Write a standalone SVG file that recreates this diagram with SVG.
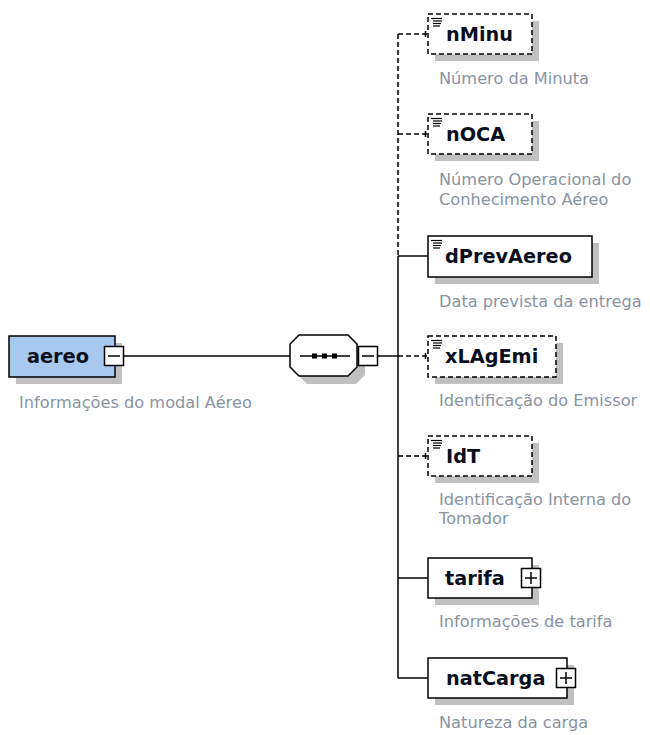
<svg xmlns="http://www.w3.org/2000/svg" width="650" height="735" viewBox="0 0 650 735">
<style>
.bg{fill:#ffffff}
.box{fill:#ffffff;stroke:#000000;stroke-width:1.5}
.opt{stroke-dasharray:5 3}
.root{fill:#a7c9ef}
.shadow{fill:#c0c0c0;stroke:none}
.ln{stroke:#000000;stroke-width:1.5;fill:none}
.dash{stroke-dasharray:5 3}
.name{font-family:"DejaVu Sans","Liberation Sans",sans-serif;font-weight:bold;font-size:19.3px;fill:#0a0f1e}
.desc{font-family:"DejaVu Sans","Liberation Sans",sans-serif;font-size:16.2px;fill:#8a93a0}
.ico{stroke:#000000;stroke-width:1.2}
.pm{fill:#ffffff;stroke:#000000;stroke-width:1.5}
</style>
<defs>
<g id="icon">
<line class="ico" x1="3" y1="4.5" x2="14" y2="4.5"/>
<line class="ico" x1="5" y1="7" x2="14" y2="7"/>
<line class="ico" x1="5" y1="9.5" x2="13" y2="9.5"/>
<line class="ico" x1="5" y1="12" x2="12" y2="12"/>
</g>
</defs>
<rect class="bg" x="0" y="0" width="650" height="735"/>

<g id="connectors">
<line class="ln" x1="124" y1="356" x2="290" y2="356"/>
<line class="ln" x1="378" y1="356" x2="398" y2="356"/>
<line class="ln dash" x1="398" y1="34" x2="398" y2="256"/>
<line class="ln" x1="398" y1="256" x2="398" y2="678"/>
<line class="ln dash" x1="398" y1="34" x2="428" y2="34"/>
<line class="ln" x1="425.5" y1="31" x2="425.5" y2="37"/>
<line class="ln dash" x1="398" y1="134" x2="428" y2="134"/>
<line class="ln" x1="425.5" y1="131" x2="425.5" y2="137"/>
<line class="ln" x1="398" y1="256" x2="428" y2="256"/>
<line class="ln dash" x1="398" y1="356" x2="428" y2="356"/>
<line class="ln" x1="425.5" y1="353" x2="425.5" y2="359"/>
<line class="ln dash" x1="398" y1="456" x2="428" y2="456"/>
<line class="ln" x1="425.5" y1="453" x2="425.5" y2="459"/>
<line class="ln" x1="398" y1="578" x2="428" y2="578"/>
<line class="ln" x1="398" y1="678" x2="428" y2="678"/>
</g>

<g id="aereo">
<rect class="shadow" x="16" y="343" width="106" height="41"/>
<rect class="box root" x="9" y="336" width="106" height="41"/>
<text class="name" x="27" y="363">aereo</text>
<rect class="pm" x="104.5" y="346.5" width="19" height="19"/>
<line class="ln" x1="108" y1="356" x2="120" y2="356"/>
<text class="desc" x="19" y="408">Informações do modal Aéreo</text>
</g>

<g id="sequence">
<polygon class="shadow" points="307,343 356,343 365,352 365,375 356,384 307,384 298,375 298,352"/>
<polygon class="box" points="299,335 348,335 357,344 357,367 348,376 299,376 290,367 290,344"/>
<line class="ln" x1="300" y1="356" x2="350" y2="356"/>
<rect x="312" y="353.5" width="5" height="5" fill="#000"/>
<rect x="322" y="353.5" width="5" height="5" fill="#000"/>
<rect x="332" y="353.5" width="5" height="5" fill="#000"/>
<rect class="pm" x="358.5" y="346.5" width="19" height="19"/>
<line class="ln" x1="362" y1="356" x2="374" y2="356"/>
</g>

<g id="nMinu">
<rect class="shadow" x="435" y="21" width="104" height="40"/>
<rect class="box opt" x="428" y="14" width="104" height="40"/>
<use href="#icon" x="428" y="14"/>
<text class="name" x="446" y="41">nMinu</text>
<text class="desc" x="439" y="84">Número da Minuta</text>
</g>

<g id="nOCA">
<rect class="shadow" x="435" y="121" width="104" height="40"/>
<rect class="box opt" x="428" y="114" width="104" height="40"/>
<use href="#icon" x="428" y="114"/>
<text class="name" x="446" y="141">nOCA</text>
<text class="desc" x="439" y="185">Número Operacional do</text>
<text class="desc" x="439" y="205">Conhecimento Aéreo</text>
</g>

<g id="dPrevAereo">
<rect class="shadow" x="435" y="243" width="164" height="41"/>
<rect class="box" x="428" y="236" width="164" height="41"/>
<use href="#icon" x="428" y="236"/>
<text class="name" x="445" y="263">dPrevAereo</text>
<text class="desc" x="439" y="307">Data prevista da entrega</text>
</g>

<g id="xLAgEmi">
<rect class="shadow" x="435" y="343" width="128" height="41"/>
<rect class="box opt" x="428" y="336" width="128" height="41"/>
<use href="#icon" x="428" y="336"/>
<text class="name" x="445" y="363">xLAgEmi</text>
<text class="desc" x="439" y="406">Identificação do Emissor</text>
</g>

<g id="IdT">
<rect class="shadow" x="435" y="443" width="104" height="40"/>
<rect class="box opt" x="428" y="436" width="104" height="40"/>
<use href="#icon" x="428" y="436"/>
<text class="name" x="446" y="463">IdT</text>
<text class="desc" x="439" y="505">Identificação Interna do</text>
<text class="desc" x="439" y="524">Tomador</text>
</g>

<g id="tarifa">
<rect class="shadow" x="435" y="565" width="104" height="40"/>
<rect class="box" x="428" y="558" width="104" height="40"/>
<text class="name" x="445" y="585">tarifa</text>
<rect class="pm" x="521.5" y="568.5" width="19" height="19"/>
<line class="ln" x1="525" y1="578" x2="537" y2="578"/>
<line class="ln" x1="531" y1="572" x2="531" y2="584"/>
<text class="desc" x="439" y="627">Informações de tarifa</text>
</g>

<g id="natCarga">
<rect class="shadow" x="435" y="665" width="139" height="40"/>
<rect class="box" x="428" y="658" width="139" height="40"/>
<text class="name" x="446" y="685">natCarga</text>
<rect class="pm" x="556.5" y="668.5" width="19" height="19"/>
<line class="ln" x1="560" y1="678" x2="572" y2="678"/>
<line class="ln" x1="566" y1="672" x2="566" y2="684"/>
<text class="desc" x="439" y="728">Natureza da carga</text>
</g>
</svg>
